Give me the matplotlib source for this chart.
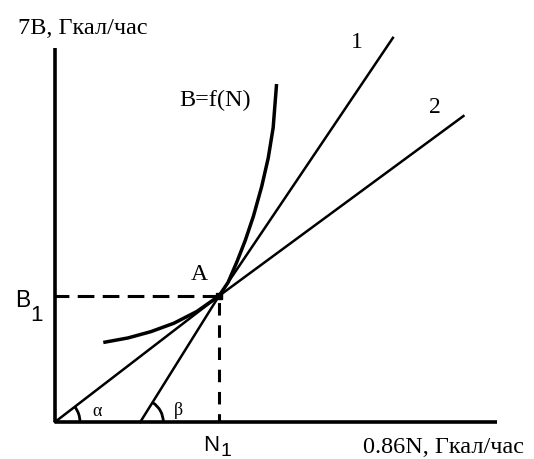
import numpy as np
import matplotlib
matplotlib.use("Agg")
import matplotlib.pyplot as plt
from matplotlib.patches import Arc

plt.rcParams["lines.scale_dashes"] = False

# operating point A
N1 = 2.0
B1 = 1.5

# B = f(N) characteristic
curve_N = [0.61, 0.89, 1.17, 1.45, 1.73, 2.00, 2.11, 2.22, 2.32, 2.42, 2.52, 2.60, 2.66, 2.70]
curve_B = [0.95, 1.00, 1.075, 1.175, 1.315, 1.50, 1.66, 1.91, 2.16, 2.45, 2.80, 3.14, 3.50, 4.00]

# line 1 (tangent at A) and line 2 (ray from the origin through A)
line1_N = [1.04, N1, 4.12]
line1_B = [0.0, B1, 4.57]
line2_N = [0.0, N1, 4.98]
line2_B = [0.0, B1, 3.64]

# axis extents
x_end = 5.39
y_end = 4.45

SERIF = "Liberation Serif"
SANS = "Liberation Sans"

fig = plt.figure(figsize=(5.34, 4.59), dpi=100)
ax = fig.add_axes([0, 0, 1, 1])
ax.set_xlim(-0.67, 5.84)
ax.set_ylim(-0.44, 5.02)
ax.axis("off")

# axes drawn as plain thick lines
ax.plot([0, x_end], [0, 0], color="black", lw=2.6, solid_capstyle="butt")
ax.plot([0, 0], [0, y_end], color="black", lw=2.6, solid_capstyle="butt")

# dashed guides to the axes
ax.plot([0, N1], [B1, B1], color="black", lw=2.2, linestyle=(2, (12, 6)))
ax.plot([N1, N1], [0, B1], color="black", lw=2.2, linestyle=(3, (9, 7)))

ax.plot(curve_N, curve_B, color="black", lw=2.5, solid_joinstyle="round")
ax.plot(line1_N, line1_B, color="black", lw=1.8)
ax.plot(line2_N, line2_B, color="black", lw=1.8)
ax.plot([N1], [B1], marker="s", ms=5, color="black")

# angle marks at the feet of both lines (x unit 82 px, y unit 84 px)
def angle_arc(x0, n, b, r_px):
    ang = np.degrees(np.arctan2((b[-1] - b[0]) * 84, (n[-1] - n[0]) * 82))
    ax.add_patch(Arc((x0, 0), 2 * r_px / 82, 2 * r_px / 84, theta1=0, theta2=ang,
                     color="black", lw=2.0))

angle_arc(line2_N[0], line2_N, line2_B, 25)
angle_arc(line1_N[0], line1_N, line1_B, 23)

ax.text(-0.45, 4.68, "7B, Гкал/час", family=SERIF, fontsize=17.5, ha="left", va="center")
ax.text(3.76, -0.30, "0.86N, Гкал/час", family=SERIF, fontsize=17.5, ha="left", va="center")
ax.text(1.51, 3.82, "B=f(N)", family=SERIF, fontsize=17.5, ha="left", va="center")
ax.text(3.68, 4.52, "1", family=SERIF, fontsize=17, ha="center", va="center")
ax.text(4.63, 3.74, "2", family=SERIF, fontsize=17, ha="center", va="center")
ax.text(N1 - 0.24, B1 + 0.25, "A", family=SERIF, fontsize=17, ha="center", va="center")
ax.text(0.51, 0.12, "α", family=SERIF, fontsize=13, ha="center", va="center")
ax.text(1.50, 0.14, "β", family=SERIF, fontsize=13, ha="center", va="center")

ax.text(-0.39, B1 - 0.05, "B", family=SANS, fontsize=16.5, ha="center", va="center")
ax.text(-0.23, B1 - 0.23, "1", family=SANS, fontsize=16, ha="center", va="center")
ax.text(N1 - 0.10, -0.28, "N", family=SANS, fontsize=16, ha="center", va="center")
ax.text(N1 + 0.09, -0.345, "1", family=SANS, fontsize=14, ha="center", va="center")

fig.savefig("out.png", dpi=100)
